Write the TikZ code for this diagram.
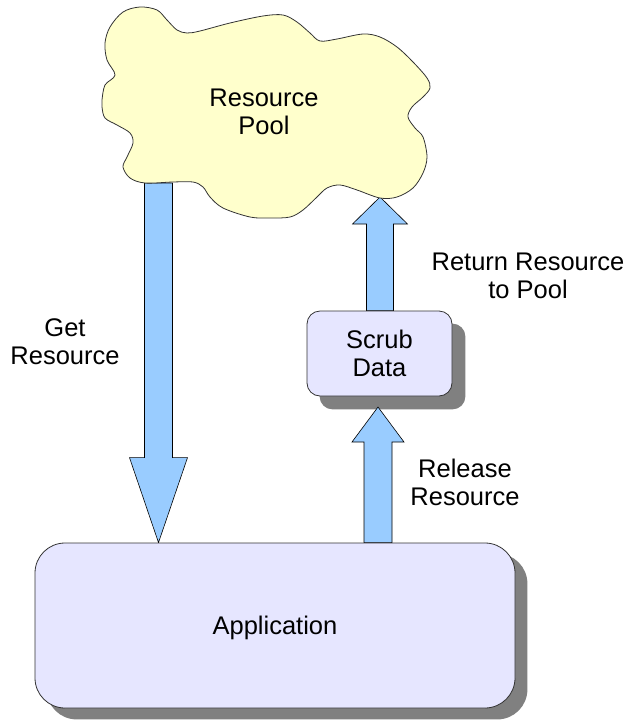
\documentclass[tikz,border=0pt]{standalone}
\usepackage{fontspec}
\setmainfont{Liberation Sans}
\usetikzlibrary{calc}
\definecolor{cloudfill}{HTML}{FFFFCC}
\definecolor{boxfill}{HTML}{E6E6FF}
\definecolor{arrowfill}{HTML}{99CCFF}
\definecolor{shadowgray}{HTML}{808080}
\definecolor{edgegray}{HTML}{333333}
\begin{document}
\begin{tikzpicture}[x=1pt,y=-1pt,
  txt/.style={font=\fontsize{25.5}{28}\selectfont, align=center, inner sep=0pt, text depth=0pt},
  boxnode/.style={draw=edgegray, fill=boxfill, line width=0.8pt, inner sep=0pt,
    font=\fontsize{25.5}{28}\selectfont, align=center, text depth=0pt},
  shadowfill/.style={fill=shadowgray},
  blockarrow/.style={fill=arrowfill, draw=black, line width=0.6pt, line join=miter},
  cloudline/.style={fill=cloudfill, draw=edgegray, line width=0.8pt}]
\useasboundingbox (0,0) rectangle (629,721);

% box positions
\path (275,625.5) node[boxnode, minimum width=480pt, minimum height=165pt, rounded corners=30pt, draw=none, fill=none] (appref) {};
\path (379.5,353.5) node[boxnode, minimum width=145pt, minimum height=85pt, rounded corners=13pt, draw=none, fill=none] (scrubref) {};

% shadows
\fill[shadowfill, rounded corners=30pt] ($(appref.north west)+(12,11)$) rectangle ($(appref.south east)+(12,11)$);
\fill[shadowfill, rounded corners=13pt] ($(scrubref.north west)+(13,13)$) rectangle ($(scrubref.south east)+(13,13)$);

% arrow coordinates
\coordinate (gtop) at (158.5,183);
\coordinate (gtip) at (gtop |- appref.north);
\coordinate (rtip) at (380,197);
\coordinate (rbase) at (rtip |- scrubref.north);
\coordinate (reltip) at (378,407);
\coordinate (relbase) at (reltip |- appref.north);

% Get Resource arrow
\draw[blockarrow] ($(gtop)+(-14,0)$) -- ($(gtop)+(14,0)$) -- ($(gtip)+(14,-85)$) -- ($(gtip)+(29,-85)$)
  -- (gtip) -- ($(gtip)+(-29,-85)$) -- ($(gtip)+(-14,-85)$) -- cycle;
% Return arrow
\draw[blockarrow] ($(rbase)+(-13.5,0)$) -- ($(rtip)+(-13.5,27)$) -- ($(rtip)+(-27.5,27)$) -- (rtip)
  -- ($(rtip)+(27.5,27)$) -- ($(rtip)+(13.5,27)$) -- ($(rbase)+(13.5,0)$) -- cycle;
% Release arrow
\draw[blockarrow] ($(relbase)+(-14,0)$) -- ($(reltip)+(-14,35)$) -- ($(reltip)+(-26,35)$) -- (reltip)
  -- ($(reltip)+(26,35)$) -- ($(reltip)+(14,35)$) -- ($(relbase)+(14,0)$) -- cycle;

% cloud
\draw[cloudline] plot[smooth cycle, tension=0.55] coordinates {
 (115,75) (107,60) (105,43) (110,27) (123,12) (140,7) (157,10) (167,20) (177,30) (187,33)
 (200,31) (230,23) (263,16) (283,15) (297,22) (310,33) (320,41) (337,39) (363,34) (380,37)
 (397,47) (413,62) (427,78) (430,88) (423,97) (412,107) (408,117) (415,128) (423,137)
 (427,157) (423,173) (413,188) (397,197) (380,198) (357,190) (340,185) (327,188) (317,197)
 (303,210) (290,217) (270,218) (250,217) (223,208) (210,197) (203,187) (193,182) (173,182)
 (145,183) (130,178) (123,167) (127,157) (133,143) (130,133) (117,125) (105,118) (102,107)
 (102,100) (105,85)};
\node[txt] (pool) at (264,112) {Resource\\Pool};

% boxes
\node[boxnode, minimum width=480pt, minimum height=165pt, rounded corners=30pt] (app) at (appref) {Application};
\node[boxnode, minimum width=145pt, minimum height=85pt, rounded corners=13pt] (scrub) at (scrubref) {Scrub\\Data};

% labels
\node[txt] (getlbl) at (65,342) {Get\\Resource};
\node[txt] (retlbl) at (528,276) {Return Resource\\to Pool};
\node[txt] (rellbl) at (465,482) {Release\\Resource};
\end{tikzpicture}
\end{document}
